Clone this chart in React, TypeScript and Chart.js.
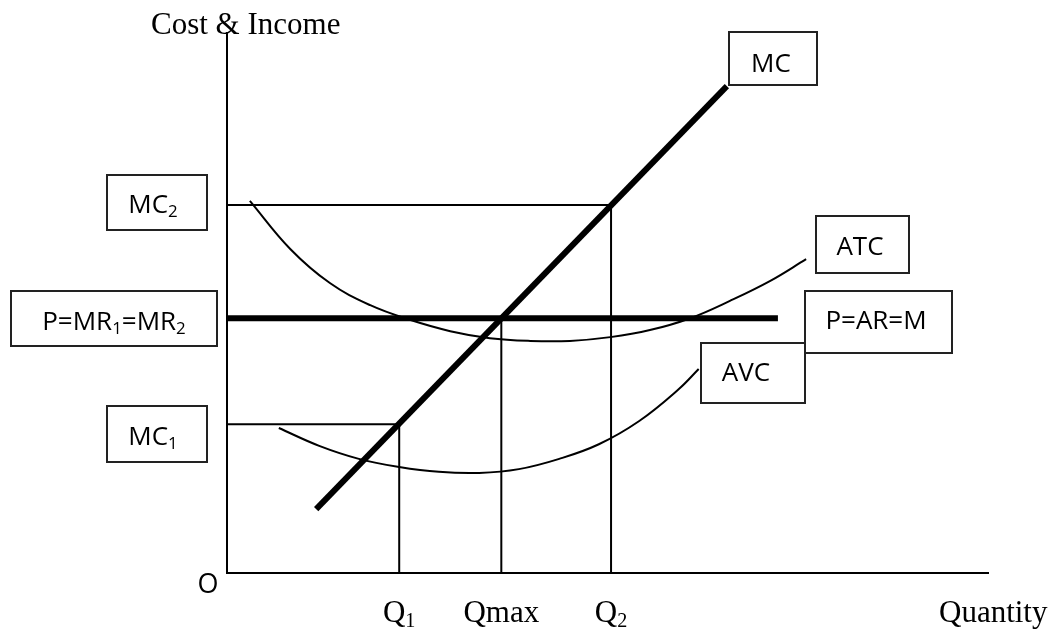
import { useEffect, useRef } from "react";
import { Chart, registerables } from "chart.js";

Chart.register(...registerables);

// Axis ranges (arbitrary quantity / cost units)
const X_MAX = 100;
const Y_MAX = 100;

// Quantities marked on the x axis
const qNames = ["Q", "Qmax", "Q"];
const qSubs = ["1", "", "2"];
const qValues = [22.6, 36.0, 50.4];

// Cost / income levels
const mc1Level = 27.5;
const priceLevel = 47.1;
const mc2Level = 68.0;
const priceLineEndQ = 72.3;

// Marginal cost (straight line)
const mcQ = [11.7, 65.6];
const mcCost = [11.8, 90.0];

// Average total cost curve
const atcQ = [3.0, 8.3, 13.5, 18.8, 24.0, 29.3, 34.5, 39.8, 45.0, 50.3, 55.5, 60.8, 66.0, 71.3, 76.0];
const atcCost = [68.8, 59.9, 53.6, 49.5, 46.8, 44.7, 43.4, 42.9, 42.9, 43.6, 44.9, 47.1, 50.3, 54.0, 58.0];

// Average variable cost curve
const avcQ = [6.8, 12.1, 17.3, 22.6, 27.8, 33.1, 38.3, 43.6, 48.8, 54.1, 59.3, 61.9];
const avcCost = [26.8, 23.5, 21.1, 19.6, 18.7, 18.5, 19.2, 21.1, 23.8, 28.1, 34.0, 37.7];

type Part = [string, boolean];

// Box annotations: [left, top, right, bottom] in canvas pixels, text centre and baseline
const boxLabels: { parts: Part[]; box: number[]; cx: number; base: number }[] = [
  { parts: [["MC", false]], box: [729, 32, 817, 85], cx: 771, base: 72 },
  { parts: [["MC", false], ["2", true]], box: [107, 175, 207, 230], cx: 153, base: 213 },
  { parts: [["ATC", false]], box: [816, 216, 909, 273], cx: 860, base: 255 },
  {
    parts: [["P=MR", false], ["1", true], ["=MR", false], ["2", true]],
    box: [11, 291, 217, 346],
    cx: 114,
    base: 330,
  },
  { parts: [["P=AR=M", false]], box: [805, 291, 952, 353], cx: 876, base: 329 },
  { parts: [["AVC", false]], box: [701, 343, 805, 403], cx: 746, base: 381 },
  { parts: [["MC", false], ["1", true]], box: [107, 406, 207, 462], cx: 153, base: 445 },
];

const SANS = '"Open Sans", "Liberation Sans", sans-serif';
const SERIF = '"Liberation Serif", "Times New Roman", serif';

function drawRich(
  ctx: CanvasRenderingContext2D,
  parts: Part[],
  cx: number,
  base: number,
  family: string,
  size: number
) {
  const subSize = size * 0.65;
  let total = 0;
  for (const [t, sub] of parts) {
    ctx.font = `${sub ? subSize : size}px ${family}`;
    total += ctx.measureText(t).width;
  }
  let x = cx - total / 2;
  ctx.textAlign = "left";
  ctx.textBaseline = "alphabetic";
  for (const [t, sub] of parts) {
    ctx.font = `${sub ? subSize : size}px ${family}`;
    ctx.fillText(t, x, sub ? base + size * 0.15 : base);
    x += ctx.measureText(t).width;
  }
}

const annotationPlugin = {
  id: "econAnnotations",
  afterDraw(chart: any) {
    const ctx: CanvasRenderingContext2D = chart.ctx;
    const xs = chart.scales.x;
    ctx.save();
    for (const b of boxLabels) {
      const [l, t, r, btm] = b.box;
      ctx.fillStyle = "#fff";
      ctx.fillRect(l, t, r - l, btm - t);
      ctx.strokeStyle = "#222";
      ctx.lineWidth = 2;
      ctx.strokeRect(l, t, r - l, btm - t);
      ctx.fillStyle = "#000";
      drawRich(ctx, b.parts, b.cx, b.base, SANS, 26);
    }
    ctx.fillStyle = "#000";
    ctx.font = `31px ${SERIF}`;
    ctx.textAlign = "left";
    ctx.textBaseline = "alphabetic";
    ctx.fillText("Cost & Income", 151, 34);
    ctx.fillText("Quantity", 939, 622);
    ctx.font = `27px ${SANS}`;
    ctx.textAlign = "center";
    ctx.textBaseline = "middle";
    ctx.fillText("O", 208, 585);
    qNames.forEach((n, i) => {
      const px = xs.getPixelForValue(qValues[i]);
      const parts: Part[] = [[n, false]];
      if (qSubs[i]) parts.push([qSubs[i], true]);
      drawRich(ctx, parts, px, 622, SERIF, 31);
    });
    ctx.restore();
  },
};

function seg(points: { x: number; y: number }[], width: number, extra: any = {}) {
  return {
    data: points,
    showLine: true,
    borderColor: "#000",
    backgroundColor: "#000",
    borderWidth: width,
    pointRadius: 0,
    fill: false,
    clip: false,
    tension: 0,
    ...extra,
  };
}

export default function App() {
  const ref = useRef<HTMLCanvasElement | null>(null);

  useEffect(() => {
    document.body.style.margin = "0";
    const canvas = ref.current;
    if (!canvas) return;
    const chart = new Chart(canvas, {
      type: "scatter",
      data: {
        datasets: [
          seg([{ x: 0, y: Y_MAX }, { x: 0, y: 0 }, { x: X_MAX, y: 0 }], 2),
          seg([{ x: 0, y: mc2Level }, { x: qValues[2], y: mc2Level }, { x: qValues[2], y: 0 }], 2),
          seg([{ x: 0, y: mc1Level }, { x: qValues[0], y: mc1Level }, { x: qValues[0], y: 0 }], 2),
          seg([{ x: qValues[1], y: priceLevel }, { x: qValues[1], y: 0 }], 2),
          seg(atcQ.map((q, i) => ({ x: q, y: atcCost[i] })), 2, { tension: 0.4 }),
          seg(avcQ.map((q, i) => ({ x: q, y: avcCost[i] })), 2, { tension: 0.4 }),
          seg([{ x: 0, y: priceLevel }, { x: priceLineEndQ, y: priceLevel }], 6),
          seg(mcQ.map((q, i) => ({ x: q, y: mcCost[i] })), 6),
        ],
      },
      options: {
        animation: false,
        responsive: false,
        maintainAspectRatio: false,
        layout: { padding: { left: 227, right: 67, top: 32, bottom: 60 } },
        scales: {
          x: { type: "linear", min: 0, max: X_MAX, display: false },
          y: { type: "linear", min: 0, max: Y_MAX, display: false },
        },
        plugins: { legend: { display: false }, tooltip: { enabled: false } },
        events: [],
      },
      plugins: [annotationPlugin],
    });
    return () => chart.destroy();
  }, []);

  return (
    <div style={{ position: "absolute", left: 0, top: 0, width: 1056, height: 633, background: "#fff" }}>
      <canvas ref={ref} width={1056} height={633} />
    </div>
  );
}
